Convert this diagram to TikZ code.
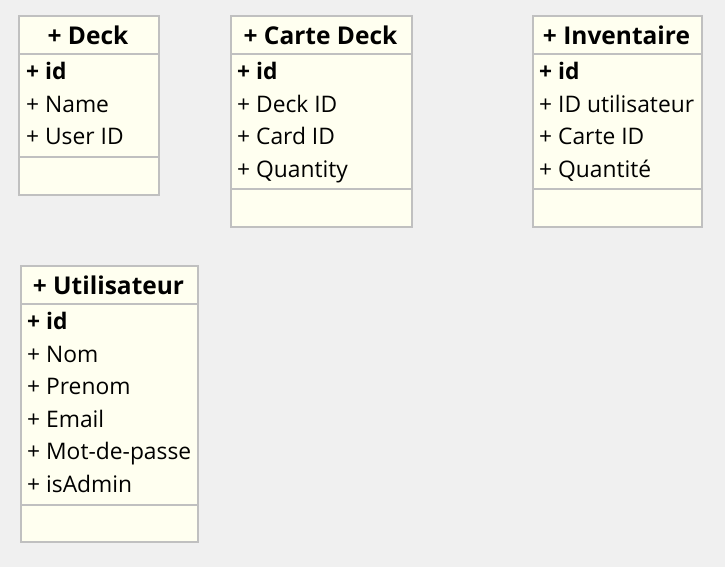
\documentclass[tikz,border=0pt]{standalone}
\usepackage{fontspec}
\setmainfont{Open Sans}
\definecolor{bg}{HTML}{F0F0F0}
\definecolor{boxfill}{HTML}{FFFFF0}
\definecolor{boxline}{HTML}{C0C0C0}
\tikzset{
  umlbox/.style={draw=boxline, line width=2pt, fill=boxfill, anchor=north west, inner sep=0pt},
  sep/.style={draw=boxline, line width=2pt},
  ttl/.style={font=\fontsize{24.5}{26}\selectfont\bfseries, anchor=base, inner sep=0pt},
  attr/.style={font=\fontsize{22.8}{24}\selectfont, anchor=base west, inner sep=0pt},
  attrb/.style={attr, font=\fontsize{22.8}{24}\selectfont\bfseries},
}
\begin{document}
\begin{tikzpicture}[x=1pt,y=-1pt]
\fill[bg] (0,0) rectangle (725,567);
\useasboundingbox (0,0) rectangle (725,567);
% Deck
\node[umlbox, minimum width=140pt, minimum height=179pt] (deck) at (18,15) {};
\draw[sep] (18,54) -- (158,54);
\draw[sep] (18,157) -- (158,157);
\node[ttl] (deckT) at (88,44.5) {+ Deck};
\node[attrb] (deck1) at (26,79.5) {+ id};
\node[attr] (deck2) at (26,112.5) {+ Name};
\node[attr] (deck3) at (26,144.5) {+ User ID};
% Carte Deck
\node[umlbox, minimum width=181pt, minimum height=211pt] (cd) at (230,15) {};
\draw[sep] (230,54) -- (411,54);
\draw[sep] (230,189) -- (411,189);
\node[ttl] (cdT) at (320.5,44.5) {+ Carte Deck};
\node[attrb] (cd1) at (237,79.5) {+ id};
\node[attr] (cd2) at (237,112.5) {+ Deck ID};
\node[attr] (cd3) at (237,144.5) {+ Card ID};
\node[attr] (cd4) at (237,177.5) {+ Quantity};
% Inventaire
\node[umlbox, minimum width=169pt, minimum height=211pt] (inv) at (532,15) {};
\draw[sep] (532,54) -- (701,54);
\draw[sep] (532,189) -- (701,189);
\node[ttl] (invT) at (616.5,44.5) {+ Inventaire};
\node[attrb] (inv1) at (539,79.5) {+ id};
\node[attr] (inv2) at (539,112.5) {+ ID utilisateur};
\node[attr] (inv3) at (539,144.5) {+ Carte ID};
\node[attr] (inv4) at (539,177.5) {+ Quantité};
% Utilisateur
\node[umlbox, minimum width=177pt, minimum height=276pt] (ut) at (20,265) {};
\draw[sep] (20,304) -- (197,304);
\draw[sep] (20,505) -- (197,505);
\node[ttl] (utT) at (108.5,294.5) {+ Utilisateur};
\node[attrb] (ut1) at (27,329.5) {+ id};
\node[attr] (ut2) at (27,362.5) {+ Nom};
\node[attr] (ut3) at (27,394.5) {+ Prenom};
\node[attr] (ut4) at (27,427.5) {+ Email};
\node[attr] (ut5) at (27,459.5) {+ Mot-de-passe};
\node[attr] (ut6) at (27,492.5) {+ isAdmin};
\end{tikzpicture}
\end{document}
